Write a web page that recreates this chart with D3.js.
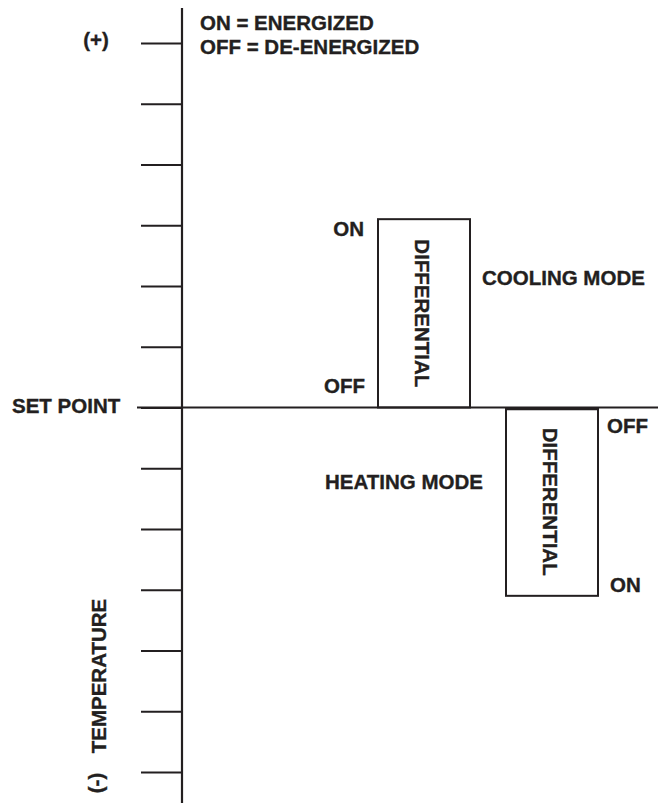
<!DOCTYPE html>
<html><head><meta charset="utf-8">
<script src="https://cdn.jsdelivr.net/npm/d3@7/dist/d3.min.js"></script>
<style>
html,body{margin:0;padding:0;background:#fff;}
svg text{font-family:"Liberation Sans",Arial,Helvetica,sans-serif;font-weight:bold;fill:#231f20;stroke:#231f20;stroke-width:0.35px;}
</style></head>
<body><div id="chart"></div>
<script>
// temperature levels relative to the set point (tick marks)
const tickLevels = [6,5,4,3,2,1,0,-1,-2,-3,-4,-5,-6];
// differential bands: [from, to] in temperature units
const modes = ["COOLING MODE","HEATING MODE"];
const diffFrom = [0, 0];
const diffTo = [3.1, -3.1];
const onLevels = [3.1, -3.1];
const offLevels = [0, 0];
const legendLines = ["ON = ENERGIZED","OFF = DE-ENERGIZED"];

const W = 661, H = 803;
const svg = d3.select("#chart").append("svg").attr("width", W).attr("height", H);
const col = "#231f20";
const fs = 20.5;

const y = d3.scaleLinear().domain([6,-6]).range([43,772]);
const x = d3.scaleBand().domain(modes).range([378,598]).paddingInner(0.28125).paddingOuter(0);
const axisX = 182;

// vertical temperature axis with ticks
const axis = d3.axisLeft(y).tickValues(tickLevels).tickSize(41).tickFormat("");
const ag = svg.append("g").attr("transform", `translate(${axisX},0)`).call(axis);
ag.select(".domain").remove();
ag.selectAll(".tick line").attr("stroke", col).attr("stroke-width", 2);
svg.append("line").attr("x1", axisX).attr("x2", axisX).attr("y1", 8).attr("y2", H)
  .attr("stroke", col).attr("stroke-width", 2.2);

// set point line
svg.append("line").attr("x1", 137).attr("x2", 658).attr("y1", y(0)).attr("y2", y(0))
  .attr("stroke", col).attr("stroke-width", 2);

// differential boxes
modes.forEach((m, i) => {
  const y0 = Math.min(y(diffFrom[i]), y(diffTo[i]));
  const y1 = Math.max(y(diffFrom[i]), y(diffTo[i]));
  const bx = x(m), bw = x.bandwidth();
  svg.append("rect").attr("x", bx).attr("y", y0 + (i === 1 ? 1.5 : 0)).attr("width", bw)
    .attr("height", y1 - y0 - (i === 1 ? 1.5 : 0))
    .attr("fill", "none").attr("stroke", col).attr("stroke-width", 2);
  if (i === 1) {
    svg.append("line").attr("x1", bx).attr("x2", bx + bw).attr("y1", y0 + 1.5).attr("y2", y0 + 1.5)
      .attr("stroke", col).attr("stroke-width", 2.5);
  }
  svg.append("text").attr("transform", `translate(${bx + bw/2 - 2},${(y0 + y1)/2}) rotate(90)`)
    .attr("text-anchor", "middle").attr("dominant-baseline", "central")
    .attr("font-size", fs).text("DIFFERENTIAL");
});

function txt(t, xx, yy, anchor) {
  svg.append("text").attr("x", xx).attr("y", yy).attr("text-anchor", anchor || "start")
    .attr("font-size", fs).text(t);
}
// cooling labels (left of box)
const cx = x(modes[0]);
txt("ON", cx - 14, y(onLevels[0]) + 17, "end");
txt("OFF", cx - 13, y(offLevels[0]) - 15, "end");
txt(modes[0], cx + x.bandwidth() + 12, 285);
// heating labels (right of box)
const hx = x(modes[1]) + x.bandwidth();
txt("OFF", hx + 9, y(offLevels[1]) + 25);
txt("ON", hx + 12, y(onLevels[1]) - 4);
txt(modes[1], 325, 489);

// legend (two lines)
txt(legendLines[0], 200, 30);
txt(legendLines[1], 200, 53.5);

// axis labels
txt("(+)", 96, 47, "middle");
txt("SET POINT", 12, 413);
svg.append("text").attr("transform", "translate(98,676) rotate(-90)")
  .attr("text-anchor", "middle").attr("dominant-baseline", "central")
  .attr("font-size", fs).text("TEMPERATURE");
svg.append("text").attr("transform", "translate(95,783) rotate(-90)")
  .attr("text-anchor", "middle").attr("dominant-baseline", "central")
  .attr("font-size", fs).text("(-)");
</script></body></html>
